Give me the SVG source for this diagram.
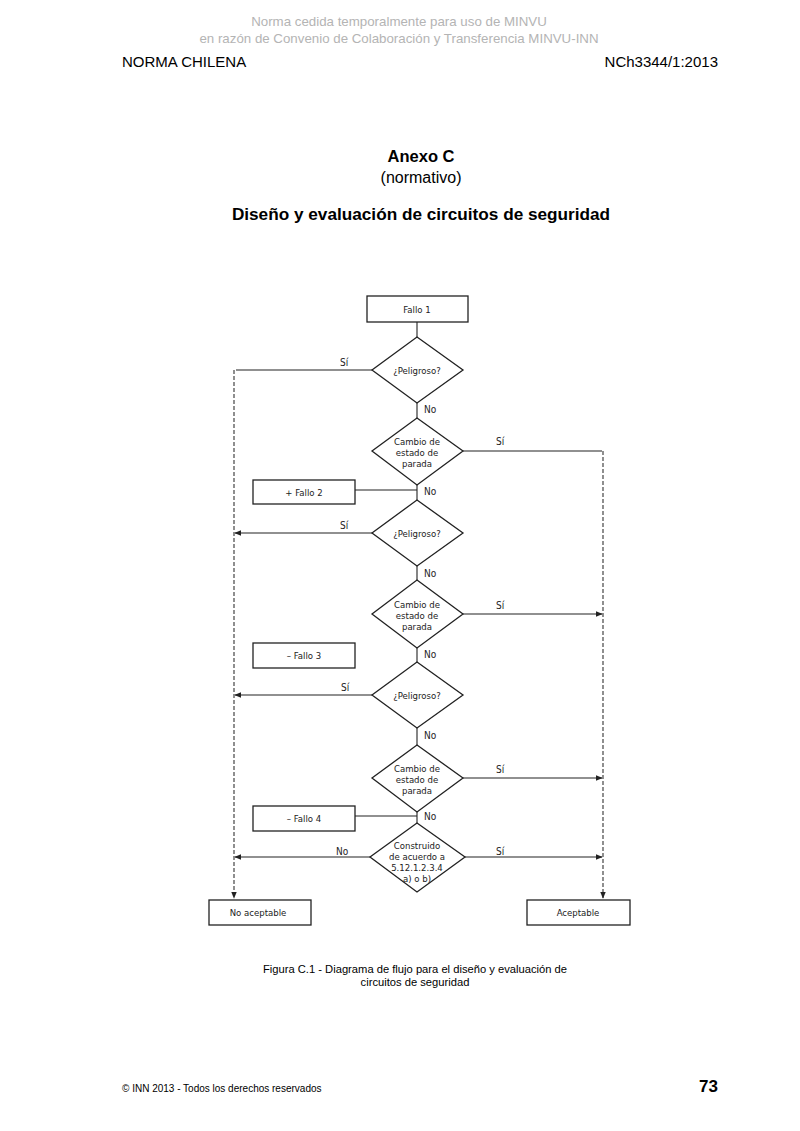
<svg xmlns="http://www.w3.org/2000/svg" width="800" height="1131" viewBox="0 0 800 1131">
<defs>
<marker id="arr" viewBox="0 0 10 10" refX="9" refY="5" markerWidth="7" markerHeight="7" orient="auto-start-reverse" markerUnits="userSpaceOnUse">
<path d="M0,1 L10,5 L0,9 z" fill="#222"/>
</marker>
<style>
.wm{font-family:"Liberation Sans",Arial,sans-serif;font-size:13.3px;fill:#b4b4b4;text-anchor:middle}
.hd{font-family:"Liberation Sans",Arial,sans-serif;font-size:15px;fill:#000}
.t{font-family:"Liberation Sans",Arial,sans-serif;fill:#000;text-anchor:middle}
.fc{font-family:"DejaVu Sans Condensed","Liberation Sans",sans-serif;font-size:9.5px;fill:#222;text-anchor:middle}
.lb{font-family:"DejaVu Sans Condensed","Liberation Sans",sans-serif;font-size:10px;fill:#222}
.box{fill:#fff;stroke:#222;stroke-width:1.3}
.dia{fill:#fff;stroke:#222;stroke-width:1.3}
.ln{fill:none;stroke:#222;stroke-width:1.1}
.dl{fill:none;stroke:#333;stroke-width:1.1;stroke-dasharray:4 2}
</style>
</defs>
<rect width="800" height="1131" fill="#fff"/>
<text class="wm" x="399" y="26">Norma cedida temporalmente para uso de MINVU</text>
<text class="wm" x="399" y="43">en razón de Convenio de Colaboración y Transferencia MINVU-INN</text>
<text class="hd" x="122" y="67">NORMA CHILENA</text>
<text class="hd" x="718" y="67" text-anchor="end">NCh3344/1:2013</text>
<text class="t" x="421" y="162" font-size="16.5" font-weight="bold">Anexo C</text>
<text class="t" x="421" y="183" font-size="16">(normativo)</text>
<text class="t" x="421" y="220" font-size="17.2" font-weight="bold">Diseño y evaluación de circuitos de seguridad</text>

<g id="connectors">
<path class="ln" d="M417,322 V337"/>
<path class="ln" d="M417,403 V418"/>
<path class="ln" d="M417,485 V500"/>
<path class="ln" d="M355,490 H417"/>
<path class="ln" d="M417,566 V580"/>
<path class="ln" d="M417,648 V662"/>
<path class="ln" d="M417,728 V745"/>
<path class="ln" d="M417,812 V823"/>
<path class="ln" d="M355,816 H417"/>
<path class="ln" d="M372,370 H236"/>
<path class="ln" d="M372,533 H235" marker-end="url(#arr)"/>
<path class="ln" d="M372,695 H235" marker-end="url(#arr)"/>
<path class="ln" d="M370,857 H235" marker-end="url(#arr)"/>
<path class="dl" d="M234,370 V898" marker-end="url(#arr)"/>
<path class="ln" d="M463,451 H602"/>
<path class="ln" d="M463,614 H602" marker-end="url(#arr)"/>
<path class="ln" d="M463,778 H602" marker-end="url(#arr)"/>
<path class="ln" d="M465,857 H602" marker-end="url(#arr)"/>
<path class="dl" d="M603,451 V898" marker-end="url(#arr)"/>
<text class="lb" x="340" y="366">Sí</text>
<text class="lb" x="424" y="413">No</text>
<text class="lb" x="496" y="445">Sí</text>
<text class="lb" x="424" y="495">No</text>
<text class="lb" x="340" y="529">Sí</text>
<text class="lb" x="424" y="577">No</text>
<text class="lb" x="496" y="609">Sí</text>
<text class="lb" x="424" y="658">No</text>
<text class="lb" x="341" y="691">Sí</text>
<text class="lb" x="424" y="739">No</text>
<text class="lb" x="496" y="773">Sí</text>
<text class="lb" x="424" y="820">No</text>
<text class="lb" x="336" y="855">No</text>
<text class="lb" x="496" y="855">Sí</text>
</g>

<g id="fallo1"><rect class="box" x="367" y="296" width="101" height="26" stroke-width="2"/><text class="fc" x="417" y="313">Fallo 1</text></g>
<g id="peligroso1"><polygon class="dia" points="417,337 463,370 417,403 372,370"/><text class="fc" x="417" y="374">¿Peligroso?</text></g>
<g id="cambio1"><polygon class="dia" points="417,418 463,451 417,485 372,451"/><text class="fc" x="417" y="445">Cambio de</text><text class="fc" x="417" y="456">estado de</text><text class="fc" x="417" y="467">parada</text></g>
<g id="fallo2"><rect class="box" x="253" y="480" width="102" height="24"/><text class="fc" x="304" y="496">+ Fallo 2</text></g>
<g id="peligroso2"><polygon class="dia" points="417,500 463,533 417,566 372,533"/><text class="fc" x="417" y="537">¿Peligroso?</text></g>
<g id="cambio2"><polygon class="dia" points="417,580 463,614 417,648 372,614"/><text class="fc" x="417" y="608">Cambio de</text><text class="fc" x="417" y="619">estado de</text><text class="fc" x="417" y="630">parada</text></g>
<g id="fallo3"><rect class="box" x="253" y="643" width="102" height="25"/><text class="fc" x="304" y="659">– Fallo 3</text></g>
<g id="peligroso3"><polygon class="dia" points="417,662 463,695 417,728 372,695"/><text class="fc" x="417" y="699">¿Peligroso?</text></g>
<g id="cambio3"><polygon class="dia" points="417,745 463,778 417,812 372,778"/><text class="fc" x="417" y="772">Cambio de</text><text class="fc" x="417" y="783">estado de</text><text class="fc" x="417" y="794">parada</text></g>
<g id="fallo4"><rect class="box" x="253" y="806" width="102" height="25"/><text class="fc" x="304" y="822">– Fallo 4</text></g>
<g id="construido"><polygon class="dia" points="417,823 465,857 417,892 370,857"/><text class="fc" x="417" y="849">Construido</text><text class="fc" x="417" y="860">de acuerdo a</text><text class="fc" x="417" y="871" font-size="9">5.12.1.2.3.4</text><text class="fc" x="417" y="882">a) o b)</text></g>
<g id="noaceptable"><rect class="box" x="209" y="900" width="102" height="25"/><text class="fc" x="258" y="916">No aceptable</text></g>
<g id="aceptable"><rect class="box" x="527" y="900" width="103" height="25"/><text class="fc" x="578" y="916">Aceptable</text></g>

<text class="t" x="415" y="973" font-size="11.2" fill="#222">Figura C.1 - Diagrama de flujo para el diseño y evaluación de</text>
<text class="t" x="415" y="986" font-size="11.2" fill="#222">circuitos de seguridad</text>
<text x="122" y="1092" font-family="Liberation Sans,sans-serif" font-size="10" fill="#000">© INN 2013 - Todos los derechos reservados</text>
<text x="718" y="1092" text-anchor="end" font-family="Liberation Sans,Arial,sans-serif" font-size="17" font-weight="bold" fill="#000">73</text>
</svg>
